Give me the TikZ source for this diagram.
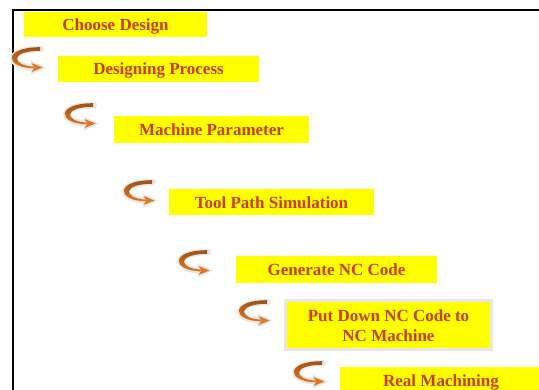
\documentclass[tikz,border=0pt]{standalone}
\usepackage{fontspec}
\setmainfont{Liberation Serif}
\definecolor{steptext}{RGB}{204,60,0}
\definecolor{stepfill}{RGB}{255,255,0}
\definecolor{curltop}{RGB}{160,82,20}
\definecolor{curlbot}{RGB}{228,118,30}
\definecolor{halo}{RGB}{232,232,232}
\tikzset{
  stepbox/.style={fill=stepfill, text=steptext, inner sep=0pt, align=center,
    font=\bfseries\fontsize{17bp}{20bp}\selectfont},
  oneline/.style={text height=12bp, text depth=0bp},
  framed/.style={draw=halo, line width=3bp},
  curl/.pic={
    % soft grey glow behind the arrow
    \draw[halo, line width=6.5bp, line cap=round]
      (1,0) .. controls (-35,0) and (-35,18) .. (-4,18.5);
    \fill[halo] (-9,11.5) -- (6,18.5) -- (-9,25.5) -- cycle;
    % tapered curved body
    \shade[top color=curltop, bottom color=curlbot]
      (0,-1.8) .. controls (-37,-1.8) and (-36,18.6) .. (-6,19.4)
      -- (-6,17.6) .. controls (-29,16.5) and (-30,1.8) .. (0,1.8) -- cycle;
    % head
    \fill[curlbot] (-8.5,14) -- (2.5,18.5) -- (-8.5,23) -- (-5.5,18.5) -- cycle;
  }
}
\begin{document}
\begin{tikzpicture}[x=1bp, y=-1bp]
  \useasboundingbox (0,0) rectangle (539,389);
  \fill[white] (0,0) rectangle (539,389);

  % outline of the sheet
  \draw[line width=2bp] (13,395) -- (13,10.3) -- (545,10.3);

  % process steps
  \node[stepbox, oneline, minimum width=183bp, minimum height=25bp] (s1) at (115.5,24.5) {Choose Design};
  \node[stepbox, oneline, minimum width=201bp, minimum height=26bp] (s2) at (158.5,68.5) {Designing Process};
  \node[stepbox, oneline, minimum width=195bp, minimum height=27bp] (s3) at (211.5,129.5) {Machine Parameter};
  \node[stepbox, oneline, minimum width=205bp, minimum height=26bp] (s4) at (271.5,202) {Tool Path Simulation};
  \node[stepbox, oneline, minimum width=201bp, minimum height=27bp] (s5) at (336.5,269.5) {Generate NC Code};
  \node[stepbox, framed, minimum width=206bp, minimum height=49bp] (s6) at (388.5,325) {\strut Put Down NC Code to\\NC Machine};
  \node[stepbox, oneline, minimum width=202bp, minimum height=27bp] (s7) at (441,380.5) {Real Machining};

  % curved arrows leading to each next step
  \pic at (40,49) {curl};
  \pic at (93,105) {curl};
  \pic at (152,182) {curl};
  \pic at (207,252) {curl};
  \pic at (267,302) {curl};
  \pic at (322,363) {curl};
\end{tikzpicture}
\end{document}
